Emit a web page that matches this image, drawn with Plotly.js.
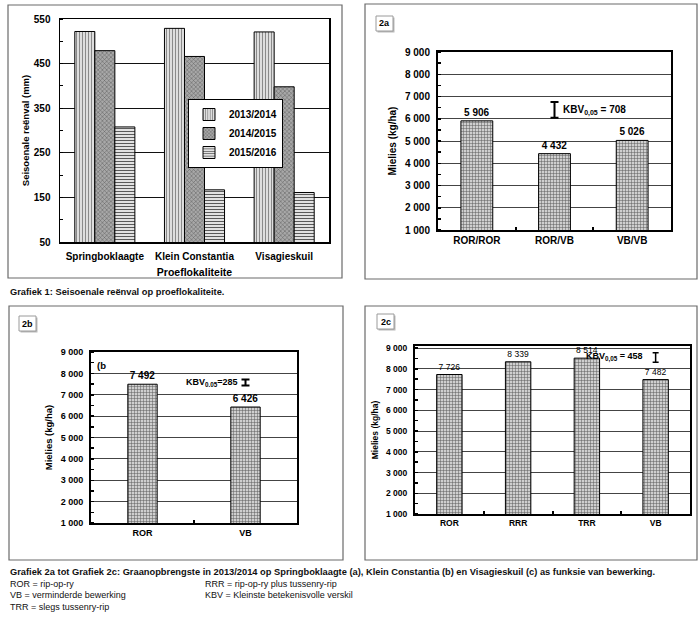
<!DOCTYPE html>
<html><head><meta charset="utf-8">
<script src="https://cdn.plot.ly/plotly-3.0.1.min.js"></script>
<style>html,body{margin:0;padding:0;background:#fff}#chart{width:700px;height:621px}</style>
</head><body><div id="chart"></div>
<script>
// ---- Grafiek 1: seasonal rainfall (mm)
const sites = ['Springboklaagte', 'Klein Constantia', 'Visagieskuil'];
const seasons = ['2013/2014', '2014/2015', '2015/2016'];
const rain1314 = [522, 529, 521];
const rain1415 = [479, 466, 398];
const rain1516 = [308, 167, 161];
const rainTicks = [50, 150, 250, 350, 450, 550];

// ---- Grafiek 2a: Springboklaagte
const treatA = ['ROR/ROR', 'ROR/VB', 'VB/VB'];
const yieldA = [5906, 4432, 5026];
const kbvA = 708;
// ---- Grafiek 2b: Klein Constantia
const treatB = ['ROR', 'VB'];
const yieldB = [7492, 6426];
const kbvB = 285;
// ---- Grafiek 2c: Visagieskuil
const treatC = ['ROR', 'RRR', 'TRR', 'VB'];
const yieldC = [7726, 8339, 8514, 7482];
const kbvC = 458;
const yieldTicks = [1000, 2000, 3000, 4000, 5000, 6000, 7000, 8000, 9000];

const W = 700, H = 621;
const px = x => x / W;
const py = y => 1 - y / H;
const ARIAL = 'Liberation Sans, Arial, sans-serif';
const bold = (s) => ({family: ARIAL, size: s, color: '#000', weight: 'bold'});

const seasonPatterns = [
  {shape: '|', bgcolor: '#f0f0f0', fgcolor: '#8a8a8a', size: 3, solidity: 0.45},
  {shape: 'x', bgcolor: '#a8a8a8', fgcolor: '#5a5a5a', size: 3, solidity: 0.3},
  {shape: '-', bgcolor: '#ffffff', fgcolor: '#5a5a5a', size: 3, solidity: 0.45}
];
const rainSeries = [rain1314, rain1415, rain1516];
const gridPat = {shape: '+', bgcolor: '#cfcfcf', fgcolor: '#5a5a5a', size: 3, solidity: 0.3};

const traces = [];
rainSeries.forEach((vals, i) => {
  traces.push({
    type: 'bar', x: sites, y: vals, name: seasons[i], xaxis: 'x', yaxis: 'y',
    marker: {color: seasonPatterns[i].bgcolor, pattern: seasonPatterns[i], line: {color: '#000', width: 1}},
    hoverinfo: 'skip'
  });
});

function yieldBar(x, y, xa, ya, w, fs, fw) {
  return {
    type: 'bar', x: x, y: y, xaxis: xa, yaxis: ya, width: w, showlegend: false,
    marker: {color: '#cfcfcf', pattern: gridPat, line: {color: '#000', width: 1}},
    texttemplate: '%{y:,d}', textposition: 'outside',
    textfont: {family: ARIAL, size: fs, color: '#000', weight: fw}, constraintext: 'none', cliponaxis: false,
    hoverinfo: 'skip'
  };
}
traces.push(yieldBar(treatA, yieldA, 'x2', 'y2', 0.41, 10, 'bold'));
traces.push(yieldBar(treatB, yieldB, 'x3', 'y3', 0.285, 10, 'bold'));
traces.push(yieldBar(treatC, yieldC, 'x4', 'y4', 0.37, 8.5, 'normal'));

function kbvBar(cat, centre, half, xa, ya, th, w) {
  return {
    type: 'scatter', mode: 'markers', x: [cat], y: [centre], xaxis: xa, yaxis: ya, showlegend: false,
    marker: {size: 1, color: 'rgba(0,0,0,0)'}, hoverinfo: 'skip', cliponaxis: false,
    error_y: {type: 'data', array: [half], visible: true, color: '#000', thickness: th, width: w}
  };
}
traces.push(kbvBar('ROR/VB', 6400, kbvA / 2, 'x2', 'y2', 2, 4));
traces.push(kbvBar('VB', 7576, kbvB / 2, 'x3', 'y3', 2, 4));
traces.push(kbvBar('VB', 8542, kbvC / 2, 'x4', 'y4', 1.5, 3));

const yieldX = (dom, fs) => ({
  domain: dom, showline: true, mirror: true, linecolor: '#000', linewidth: 2,
  ticks: 'inside', tickson: 'boundaries', ticklen: 3, tickwidth: 2, tickcolor: '#000',
  tickfont: bold(fs), showgrid: false, zeroline: false, fixedrange: true
});
const yieldY = (dom, anchor, fs, top, title, tfs, standoff) => ({
  domain: dom, anchor: anchor, range: [1000, top], tickvals: yieldTicks, tickformat: ',d',
  showline: true, mirror: true, linecolor: '#000', linewidth: 2,
  showgrid: true, gridcolor: '#444', gridwidth: 1, zeroline: false,
  ticks: '', tickfont: bold(fs), ticklabelstandoff: 4,
  minor: {ticks: 'inside', dtick: 500, tick0: 1000, ticklen: 3, tickwidth: 1.5, tickcolor: '#000', showgrid: false},
  title: {text: title, font: bold(tfs), standoff: standoff}, fixedrange: true
});

const layout = {
  width: W, height: H, margin: {l: 0, r: 0, t: 0, b: 0},
  paper_bgcolor: '#fff', plot_bgcolor: '#fff',
  separators: ', ', barmode: 'group', bargap: 0.33, bargroupgap: 0,
  font: {family: ARIAL, color: '#000'},
  showlegend: true,
  legend: {x: px(188), y: py(99), xanchor: 'left', yanchor: 'top', bgcolor: '#fff',
    bordercolor: '#000', borderwidth: 1, font: bold(10), itemwidth: 30, tracegroupgap: 0},
  xaxis: {domain: [px(60), px(329)], anchor: 'y', showline: true, mirror: true, linecolor: '#000', linewidth: 1.5,
    ticks: '', tickfont: bold(10), ticklabelstandoff: 4, showgrid: false, zeroline: false,
    title: {text: 'Proeflokaliteite', font: bold(10.5), standoff: 8}, fixedrange: true},
  yaxis: {domain: [py(242), py(19)], anchor: 'x', range: [50, 550], tickvals: rainTicks,
    showline: true, mirror: true, linecolor: '#000', linewidth: 1.5,
    showgrid: true, gridcolor: '#111', gridwidth: 1, zeroline: false, ticks: '', tickfont: bold(10),
    ticklabelstandoff: 6,
    minor: {ticks: 'inside', dtick: 50, tick0: 50, ticklen: 3, tickwidth: 1, tickcolor: '#000', showgrid: false},
    title: {text: 'Seisoenale reënval (mm)', font: bold(9.5), standoff: 2}, fixedrange: true},
  xaxis2: Object.assign(yieldX([px(438), px(671)], 10), {anchor: 'y2'}),
  yaxis2: yieldY([py(230), py(52)], 'x2', 10, 9000, 'Mielies (kg/ha)', 10, 6),
  xaxis3: Object.assign(yieldX([px(91), px(297)], 9), {anchor: 'y3'}),
  yaxis3: yieldY([py(523), py(352)], 'x3', 9, 9000, 'Mielies (kg/ha)', 9.5, 6),
  xaxis4: Object.assign(yieldX([px(415), px(690)], 8.5), {anchor: 'y4'}),
  yaxis4: yieldY([py(514), py(346)], 'x4', 8.5, 9100, 'Mielies (kg/ha)', 8.5, 6),
  shapes: [],
  annotations: []
};

// panel frames
[[8, 5, 342, 278], [365, 4, 697, 279], [9, 306, 343, 560], [365, 306, 697, 560]].forEach(b => {
  layout.shapes.push({type: 'rect', xref: 'paper', yref: 'paper', x0: px(b[0]), x1: px(b[2]), y0: py(b[3]), y1: py(b[1]),
    line: {color: '#6a6a6a', width: 1.2}, fillcolor: 'rgba(0,0,0,0)', layer: 'below'});
});
// panel tags 2a/2b/2c
[['2a', 376, 16], ['2b', 19, 316], ['2c', 377, 314]].forEach(t => {
  layout.shapes.push({type: 'rect', xref: 'paper', yref: 'paper', x0: px(t[1] + 1.5), x1: px(t[1] + 18.5), y0: py(t[2] + 16.5), y1: py(t[2] + 1.5),
    line: {width: 0}, fillcolor: '#b8b8b8'});
  layout.shapes.push({type: 'rect', xref: 'paper', yref: 'paper', x0: px(t[1]), x1: px(t[1] + 17), y0: py(t[2] + 15), y1: py(t[2]),
    line: {color: '#9a9a9a', width: 1}, fillcolor: '#fff'});
  layout.annotations.push({text: t[0], xref: 'paper', yref: 'paper', x: px(t[1] + 8.5), y: py(t[2] + 7.5),
    xanchor: 'center', yanchor: 'middle', showarrow: false, font: bold(9)});
});

// KBV labels
layout.annotations.push({text: 'KBV<sub>0,05</sub> = ' + kbvA, xref: 'x2', yref: 'y2', x: 'ROR/VB', y: 6360,
  xanchor: 'left', yanchor: 'middle', xshift: 6, showarrow: false, font: bold(10)});
layout.annotations.push({text: 'KBV<sub>0.05</sub>=' + kbvB, xref: 'x3', yref: 'y3', x: 'VB', y: 7590,
  xanchor: 'right', yanchor: 'middle', xshift: -6, showarrow: false, font: bold(9)});
layout.annotations.push({text: 'KBV<sub>0,05</sub> = ' + kbvC, xref: 'x4', yref: 'y4', x: 'VB', y: 8585,
  xanchor: 'right', yanchor: 'middle', xshift: -11, showarrow: false, font: bold(9)});
layout.annotations.push({text: '(b', xref: 'x3 domain', yref: 'y3', x: 0.02, y: 8380,
  xanchor: 'left', yanchor: 'middle', showarrow: false, font: bold(9.5)});

// captions
const capB = {family: ARIAL, size: 9.3, color: '#111', weight: 'bold'};
const capN = {family: ARIAL, size: 9, color: '#111'};
const cap = (text, x, y, f) => layout.annotations.push({text: text, xref: 'paper', yref: 'paper', x: px(x), y: py(y),
  xanchor: 'left', yanchor: 'middle', showarrow: false, font: f});
cap('Grafiek 1: Seisoenale reënval op proeflokaliteite.', 8, 292, capB);
cap('Grafiek 2a tot Grafiek 2c: Graanopbrengste in 2013/2014 op Springboklaagte (a), Klein Constantia (b) en Visagieskuil (c) as funksie van bewerking.', 8, 572, capB);
cap('ROR = rip-op-ry', 8, 583.5, capN);
cap('VB = verminderde bewerking', 8, 595, capN);
cap('TRR = slegs tussenry-rip', 8, 606.5, capN);
cap('RRR = rip-op-ry plus tussenry-rip', 203, 583.5, capN);
cap('KBV = Kleinste betekenisvolle verskil', 203, 595, capN);

Plotly.newPlot('chart', traces, layout, {staticPlot: true, displayModeBar: false});
</script>
</body></html>
